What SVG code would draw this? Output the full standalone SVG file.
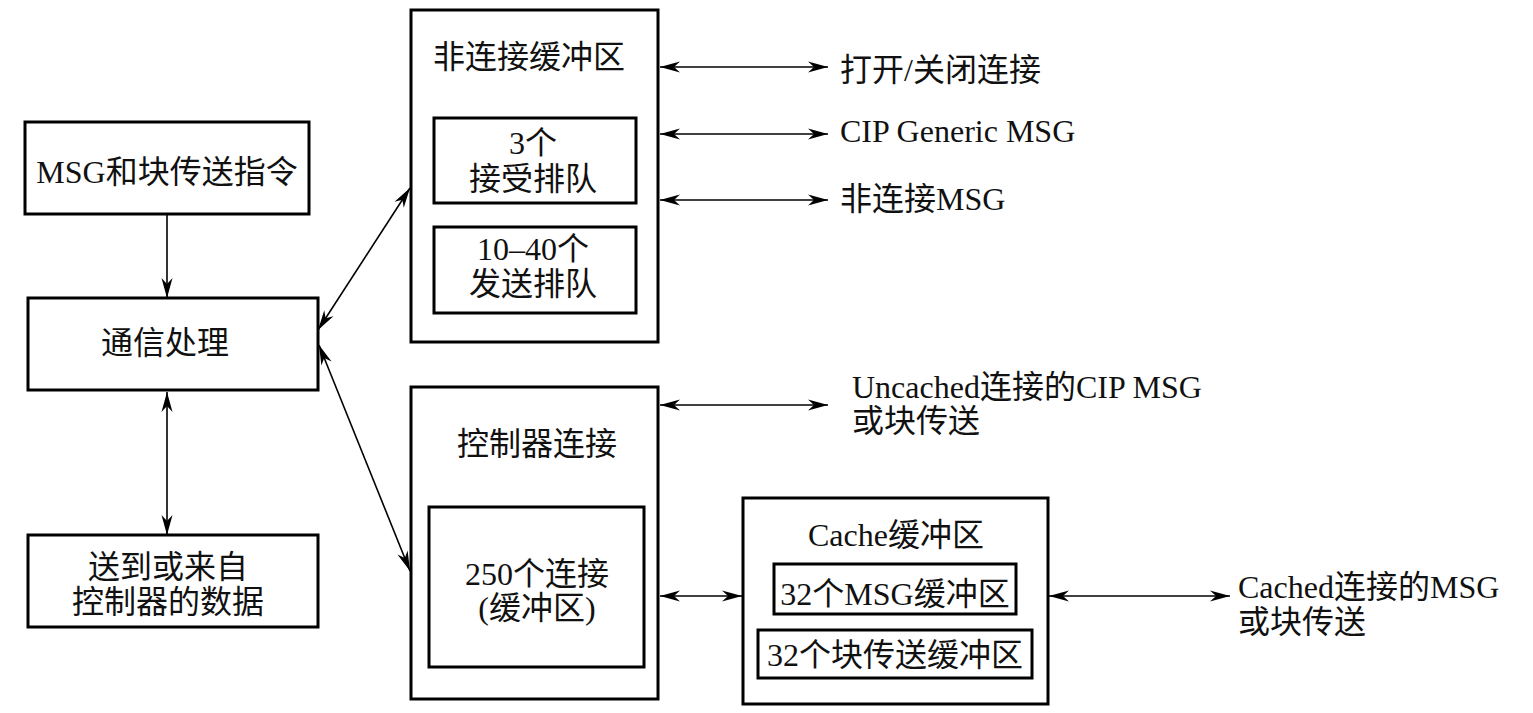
<svg xmlns="http://www.w3.org/2000/svg" width="1533" height="713" viewBox="0 0 1533 713">
<style>
.box{fill:none;stroke:#000;stroke-width:3}
.ln{fill:none;stroke:#000;stroke-width:1.6;marker-end:url(#ah)}
.dbl{marker-start:url(#ah)}
text{font-family:"Liberation Serif","Noto Sans CJK SC",serif;font-size:32px;fill:#111}
.c{text-anchor:middle}
</style>
<defs>
<marker id="ah" markerUnits="userSpaceOnUse" markerWidth="20" markerHeight="12" viewBox="0 -6 20 12" refX="20" refY="0" orient="auto-start-reverse">
<path d="M20,0 L0,-5.5 L6,0 L0,5.5 z" fill="#000"/>
</marker>
</defs>
<rect width="1533" height="713" fill="#fff"/>
<g id="n-msg"><rect class="box" x="25" y="122" width="284" height="92"/><text class="c" x="167" y="183">MSG和块传送指令</text></g>
<g id="n-comm"><rect class="box" x="28" y="298" width="290" height="92"/><text class="c" x="165" y="354">通信处理</text></g>
<g id="n-data"><rect class="box" x="28" y="535" width="290" height="92"/><text class="c" x="168" y="578">送到或来自</text><text class="c" x="168" y="613">控制器的数据</text></g>
<g id="n-unconn"><rect class="box" x="411" y="10" width="247" height="332"/><text class="c" x="529" y="68">非连接缓冲区</text>
<g id="n-recv"><rect class="box" x="434" y="118" width="202" height="85"/><text class="c" x="533" y="154">3个</text><text class="c" x="533" y="190">接受排队</text></g>
<g id="n-send"><rect class="box" x="434" y="227" width="202" height="86"/><text class="c" x="533" y="260">10–40个</text><text class="c" x="533" y="295">发送排队</text></g>
</g>
<g id="n-ctrl"><rect class="box" x="411" y="387" width="247" height="312"/><text class="c" x="537" y="455">控制器连接</text>
<g id="n-250"><rect class="box" x="429" y="507" width="215" height="160"/><text class="c" x="537" y="585">250个连接</text><text class="c" x="537" y="619">(缓冲区)</text></g>
</g>
<g id="n-cache"><rect class="box" x="743" y="498" width="305" height="206"/><text class="c" x="896" y="546">Cache缓冲区</text>
<g id="n-c1"><rect class="box" x="774" y="564" width="242" height="50"/><text class="c" x="895" y="605">32个MSG缓冲区</text></g>
<g id="n-c2"><rect class="box" x="758" y="630" width="274" height="48"/><text class="c" x="895" y="666">32个块传送缓冲区</text></g>
</g>
<g id="labels">
<text x="840" y="81">打开/关闭连接</text>
<text x="840" y="142">CIP Generic MSG</text>
<text x="840" y="210">非连接MSG</text>
<text x="852" y="398">Uncached连接的CIP MSG</text>
<text x="852" y="432">或块传送</text>
<text x="1238" y="598">Cached连接的MSG</text>
<text x="1238" y="633">或块传送</text>
</g>
<g id="connectors">
<line class="ln" x1="167" y1="214" x2="167" y2="298"/>
<line class="ln dbl" x1="167" y1="392" x2="167" y2="535"/>
<line class="ln dbl" x1="318" y1="330" x2="410" y2="188"/>
<line class="ln dbl" x1="319" y1="345" x2="410" y2="571"/>
<line class="ln dbl" x1="660" y1="67" x2="828" y2="67"/>
<line class="ln dbl" x1="660" y1="134" x2="828" y2="134"/>
<line class="ln dbl" x1="660" y1="200" x2="828" y2="200"/>
<line class="ln dbl" x1="660" y1="405" x2="828" y2="405"/>
<line class="ln dbl" x1="660" y1="596" x2="742" y2="596"/>
<line class="ln dbl" x1="1049" y1="596" x2="1230" y2="596"/>
</g>
</svg>
